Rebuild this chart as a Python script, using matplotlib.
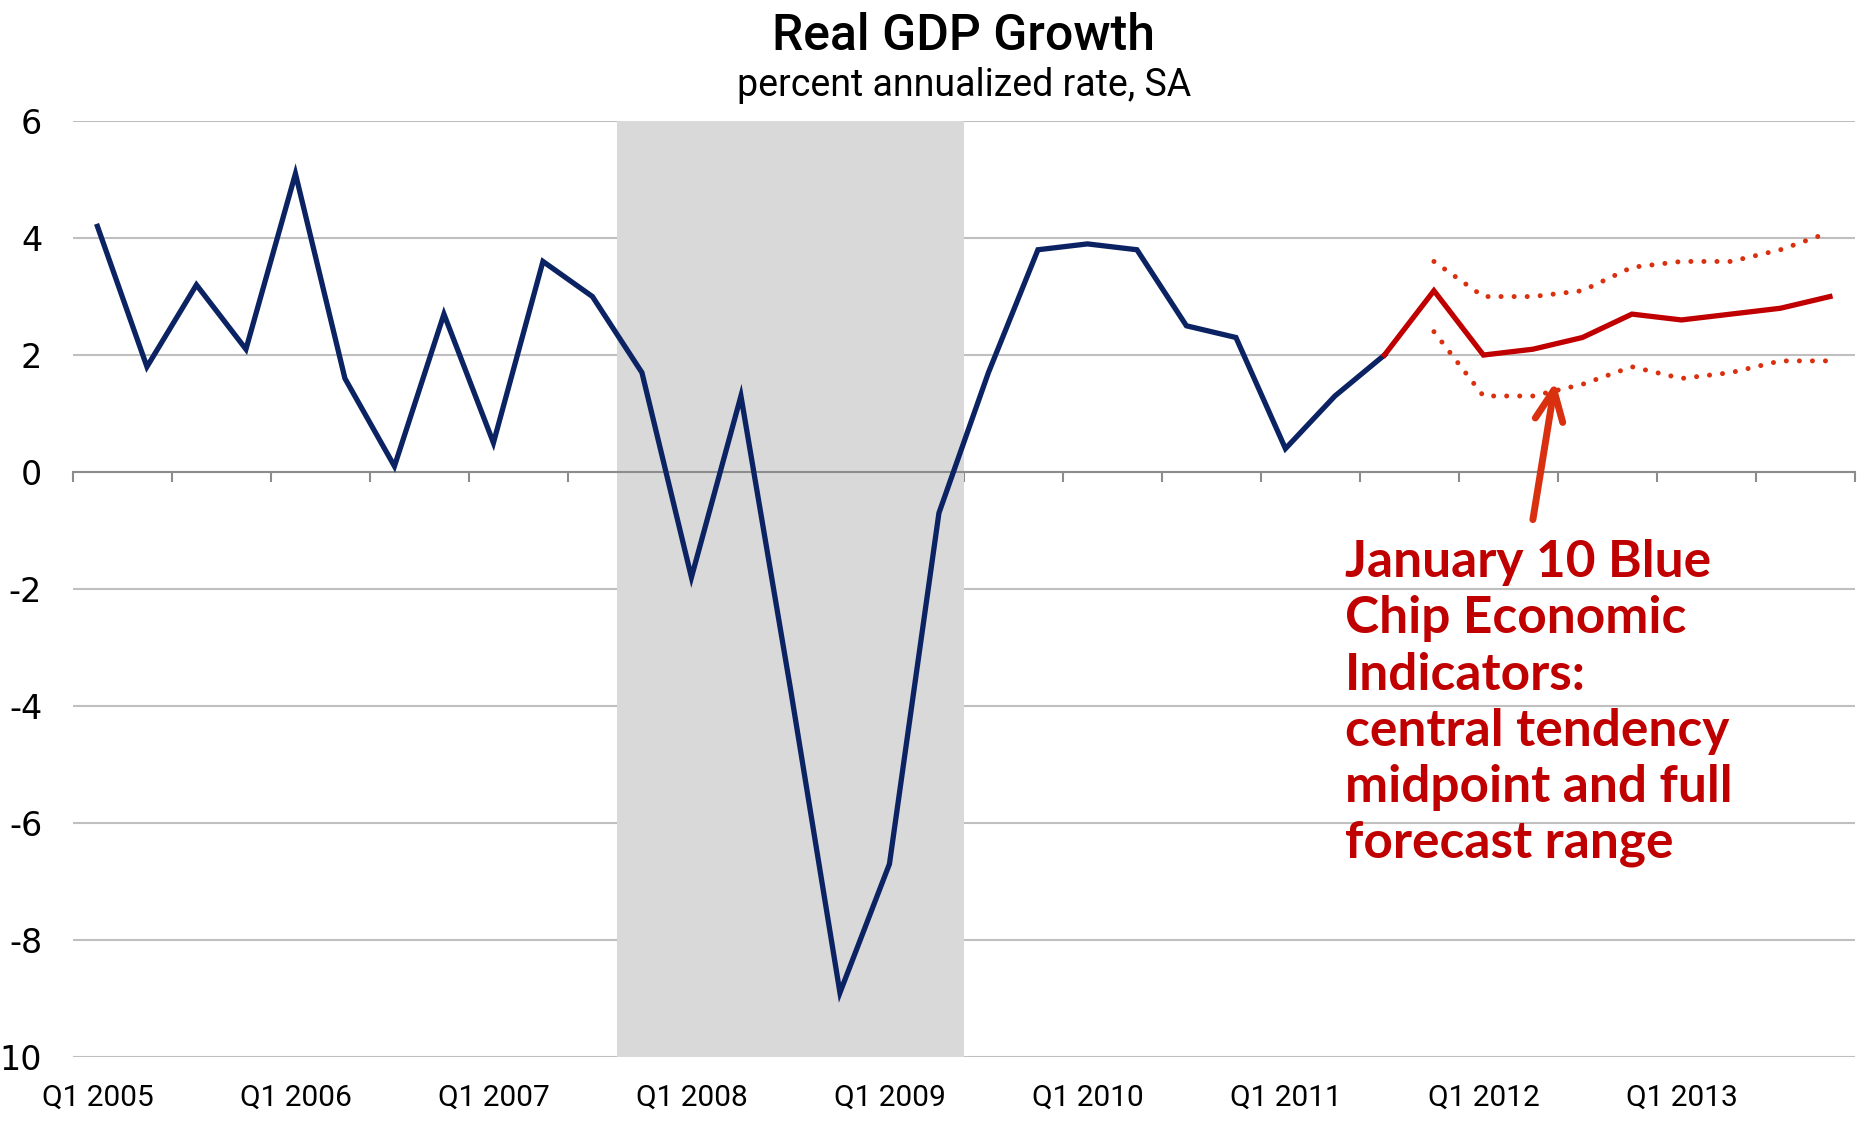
import numpy as np
import matplotlib.pyplot as plt

# quarters Q1 2005 .. Q4 2013
years = list(range(2005, 2014))
quarters = [f'Q{q} {y}' for y in years for q in range(1, 5)]

# actual real GDP growth, Q1 2005 .. Q3 2011
actual = [4.2, 1.8, 3.2, 2.1, 5.1, 1.6, 0.1, 2.7, 0.5, 3.6, 3.0, 1.7,
          -1.8, 1.3, -3.7, -8.9, -6.7, -0.7, 1.7, 3.8, 3.9, 3.8, 2.5, 2.3,
          0.4, 1.3, 2.0]
# blue chip forecast, Q3 2011 (joins actual) .. Q4 2013
forecast = [2.0, 3.1, 2.0, 2.1, 2.3, 2.7, 2.6, 2.7, 2.8, 3.0]
fc_high = [3.6, 3.0, 3.0, 3.1, 3.5, 3.6, 3.6, 3.8, 4.1]
fc_low = [2.4, 1.3, 1.3, 1.5, 1.8, 1.6, 1.7, 1.9, 1.9]

recession = ('Q4 2007', 'Q2 2009')

navy = '#0B2363'
red = '#C00000'
orange = '#D9300F'

x_act = np.arange(len(actual))
x_fc = np.arange(len(actual) - 1, len(actual) - 1 + len(forecast))
x_rng = np.arange(len(actual), len(actual) + len(fc_high))

fig = plt.figure(figsize=(18.64, 11.25), dpi=100)
ax = fig.add_axes([0.039, 0.0604, 0.956, 0.832])

r0 = quarters.index(recession[0]) - 0.5
r1 = quarters.index(recession[1]) + 0.5
ax.axvspan(r0, r1, color='#D9D9D9', zorder=1, lw=0)

ax.set_yticks(np.arange(-10, 7, 2))
ax.set_yticklabels(['10', '-8', '-6', '-4', '-2', '0', '2', '4', '6'])
ax.yaxis.grid(True, color='#BFBFBF', lw=1.5, zorder=0.5)
ax.set_axisbelow(True)
ax.tick_params(axis='y', length=0, pad=22, labelsize=24)
for lbl in ax.get_yticklabels():
    lbl.set_fontfamily('DejaVu Sans')

ax.plot(x_act, actual, color=navy, lw=3.8, zorder=3, solid_joinstyle='miter')
ax.plot(x_fc, forecast, color=red, lw=3.8, zorder=3, solid_joinstyle='miter')
dots = (0, (0.01, 2.6))
ax.plot(x_rng, fc_high, color=orange, lw=3.6, ls=dots, dash_capstyle='round', zorder=3)
ax.plot(x_rng, fc_low, color=orange, lw=3.6, ls=dots, dash_capstyle='round', zorder=3)

ax.set_xlim(-0.5, len(quarters) - 0.5)
ax.set_ylim(-10, 6)

for s in ['top', 'right', 'left']:
    ax.spines[s].set_visible(False)
ax.spines['bottom'].set_position(('data', 0))
ax.spines['bottom'].set_color('#8C8C8C')
ax.spines['bottom'].set_linewidth(1.5)
ax.spines['bottom'].set_zorder(2.5)
ax.set_xticks(np.arange(-0.5, len(quarters), 2))
ax.set_xticklabels([])
ax.tick_params(axis='x', direction='out', length=7, width=1.5, color='#8C8C8C')

sec = ax.secondary_xaxis(0.0)
sec.set_xticks(np.arange(0, len(quarters), 4))
sec.set_xticklabels(quarters[::4], fontsize=21.5, family='Roboto')
sec.tick_params(length=0, pad=19)
sec.spines['bottom'].set_visible(False)

ax.annotate('', xy=(29.46, 1.59), xytext=(28.99, -0.86),
            arrowprops=dict(arrowstyle='->,head_length=1.1,head_width=0.5',
                            mutation_scale=20, color=orange, lw=5,
                            capstyle='round', joinstyle='round'),
            zorder=4)
ax.text(25.2, -1.15, 'January 10 Blue\nChip Economic\nIndicators:\ncentral tendency\nmidpoint and full\nforecast range',
        color=red, fontsize=37, fontweight='bold', family='Lato',
        va='top', ha='left', linespacing=1.24, zorder=4)

fig.text(0.517, 0.968, 'Real GDP Growth', ha='center', va='center',
         fontsize=36, fontweight='medium', family='Roboto')
fig.text(0.517, 0.924, 'percent annualized rate, SA', ha='center', va='center',
         fontsize=27, family='Roboto')

fig.savefig('out.png', dpi=100)
